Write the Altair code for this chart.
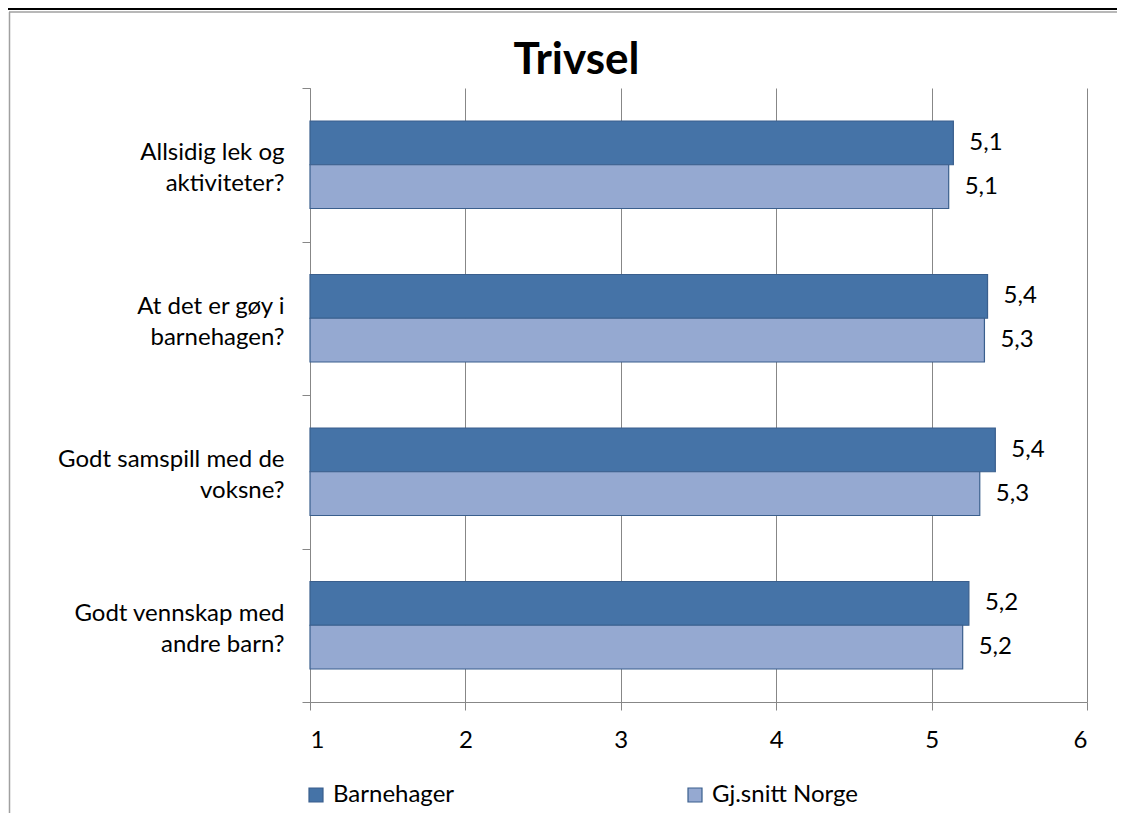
import altair as alt
import pandas as pd

categories = ["Allsidig lek og|aktiviteter?", "At det er gøy i|barnehagen?",
              "Godt samspill med de|voksne?", "Godt vennskap med|andre barn?"]
series = ["Barnehager", "Gj.snitt Norge"]
barnehager = [5.14, 5.36, 5.41, 5.24]
norge = [5.11, 5.34, 5.31, 5.20]
x_ticks = [1, 2, 3, 4, 5, 6]

rows = []
for c, a, b in zip(categories, barnehager, norge):
    rows.append({"cat": c, "serie": series[0], "value": a})
    rows.append({"cat": c, "serie": series[1], "value": b})
df = pd.DataFrame(rows)

FONT = "Lato"
GRID = "#878787"
colors = ["#4573A7", "#95A9D1"]
FS = 24

y_enc = alt.Y("cat:N", sort=categories,
              scale=alt.Scale(paddingInner=0, paddingOuter=0),
              axis=alt.Axis(title=None, labelExpr="split(datum.label, '|')",
                            labelFontSize=FS, labelFont=FONT, labelColor="#000",
                            labelLineHeight=31, labelPadding=18, labelOffset=-12,
                            tickBand="extent",
                            tickSize=8, tickColor=GRID, domainColor=GRID,
                            labelAlign="right", labelLimit=300, grid=False))
yoff = alt.YOffset("serie:N", sort=series,
                   scale=alt.Scale(paddingInner=0, paddingOuter=0.754))

base = alt.Chart(df)

bars = base.mark_bar(stroke="#3A5F8D", strokeWidth=1.2).encode(
    x=alt.X("value:Q", scale=alt.Scale(domain=[1, 6], zero=False, nice=False),
            axis=alt.Axis(title=None, values=x_ticks, format="d", labelFontSize=FS,
                          labelFont=FONT, labelColor="#000", labelPadding=18,
                          tickSize=8, tickColor=GRID, domainColor=GRID,
                          gridColor=GRID, gridOpacity=1, grid=True)),
    x2=alt.datum(1),
    y=y_enc,
    yOffset=yoff,
    color=alt.Color("serie:N", sort=series,
                    scale=alt.Scale(domain=series, range=colors),
                    legend=alt.Legend(title=None, orient="none", legendX=-6, legendY=695,
                                      direction="horizontal", symbolType="square",
                                      symbolSize=196, symbolStrokeColor="#3A5F8D",
                                      symbolStrokeWidth=1.2, labelFontSize=FS,
                                      labelFont=FONT, labelColor="#000",
                                      labelOffset=5, columnPadding=228,
                                      labelLimit=300)),
)

labels = base.transform_calculate(
    lbl="replace(format(datum.value, '.1f'), '.', ',')"
).mark_text(align="left", baseline="middle", dx=16, fontSize=FS, font=FONT,
            color="#000").encode(
    x=alt.X("value:Q"),
    y=alt.Y("cat:N", sort=categories),
    yOffset=yoff,
    text="lbl:N",
)

# decorative frame lines of the original screenshot
frame_df = pd.DataFrame({"k": [0]})
frame_top = alt.Chart(frame_df).mark_rule(color="#000", strokeWidth=2).encode(
    x=alt.value(-302), x2=alt.value(830), y=alt.value(-79))
frame_top2 = alt.Chart(frame_df).mark_rule(color="#A0A0A0", strokeWidth=1.5).encode(
    x=alt.value(-301), x2=alt.value(830), y=alt.value(-76))
frame_left = alt.Chart(frame_df).mark_rule(color="#A0A0A0", strokeWidth=1.5).encode(
    x=alt.value(-300.5), y=alt.value(-76), y2=alt.value(740))

chart = alt.layer(bars, labels, frame_top, frame_top2, frame_left).properties(
    width=777, height=614,
    title=alt.Title("Trivsel", fontSize=44, font=FONT, fontWeight="bold",
                    color="#000", anchor="middle", frame="group",
                    dx=-122, dy=76.5, offset=2),
    autosize=alt.AutoSizeParams(type="none"),
    padding={"left": 302, "top": 80, "right": 30, "bottom": 111},
).configure(background="white").configure_view(stroke=None)

chart.save("out.html", embed_options={"renderer": "svg", "actions": False})
